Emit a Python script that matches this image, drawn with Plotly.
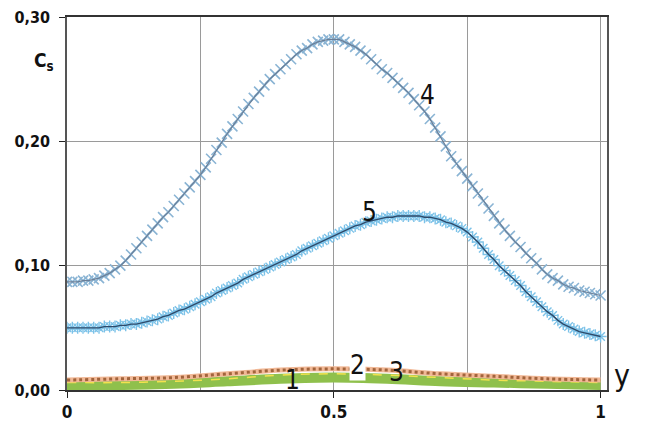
import plotly.graph_objects as go

# ---- data ----
y_grid = [round(i * 0.01, 2) for i in range(101)]

cs_4 = [0.087, 0.087, 0.087, 0.088, 0.088, 0.089, 0.090, 0.092, 0.094, 0.097,
        0.100, 0.104, 0.109, 0.114, 0.119, 0.124, 0.129, 0.134, 0.139, 0.143,
        0.148, 0.153, 0.158, 0.163, 0.168, 0.173, 0.179, 0.186, 0.193, 0.199,
        0.206, 0.212, 0.218, 0.224, 0.230, 0.235, 0.240, 0.245, 0.250, 0.254,
        0.258, 0.262, 0.266, 0.270, 0.273, 0.275, 0.278, 0.280, 0.281, 0.282,
        0.282, 0.282, 0.280, 0.278, 0.276, 0.273, 0.270, 0.266, 0.262, 0.258,
        0.255, 0.251, 0.247, 0.243, 0.239, 0.234, 0.229, 0.224, 0.218, 0.211,
        0.204, 0.196, 0.188, 0.182, 0.176, 0.170, 0.164, 0.158, 0.152, 0.146,
        0.140, 0.134, 0.129, 0.124, 0.119, 0.115, 0.110, 0.106, 0.102, 0.097,
        0.093, 0.090, 0.088, 0.085, 0.083, 0.082, 0.080, 0.079, 0.078, 0.077,
        0.076]

cs_5 = [0.050, 0.050, 0.050, 0.050, 0.050, 0.050, 0.050, 0.051, 0.051, 0.051,
        0.052, 0.052, 0.053, 0.053, 0.054, 0.055, 0.056, 0.057, 0.059, 0.060,
        0.062, 0.064, 0.065, 0.067, 0.069, 0.071, 0.073, 0.075, 0.078, 0.080,
        0.082, 0.084, 0.086, 0.089, 0.091, 0.093, 0.095, 0.097, 0.099, 0.101,
        0.103, 0.105, 0.107, 0.109, 0.112, 0.114, 0.116, 0.118, 0.120, 0.122,
        0.124, 0.126, 0.128, 0.130, 0.132, 0.133, 0.135, 0.136, 0.137, 0.138,
        0.139, 0.139, 0.140, 0.140, 0.140, 0.140, 0.140, 0.139, 0.139, 0.138,
        0.137, 0.135, 0.134, 0.132, 0.130, 0.127, 0.123, 0.119, 0.114, 0.109,
        0.105, 0.100, 0.096, 0.092, 0.088, 0.084, 0.079, 0.075, 0.071, 0.067,
        0.063, 0.060, 0.056, 0.053, 0.051, 0.049, 0.047, 0.046, 0.045, 0.044,
        0.043]

y_coarse = [0.0, 0.1, 0.2, 0.3, 0.4, 0.5, 0.6, 0.7, 0.8, 0.9, 1.0]
cs_1 = [0.004, 0.004, 0.005, 0.007, 0.009, 0.010, 0.009, 0.007, 0.006, 0.005, 0.004]
cs_2 = [0.008, 0.009, 0.010, 0.013, 0.016, 0.017, 0.016, 0.013, 0.011, 0.009, 0.008]
cs_3 = [0.006, 0.006, 0.007, 0.009, 0.012, 0.013, 0.012, 0.010, 0.008, 0.007, 0.006]

y_ticks = [0.0, 0.1, 0.2, 0.3]
y_tick_text = ["0,00", "0,10", "0,20", "0,30"]
x_ticks = [0, 0.5, 1]
x_tick_text = ["0", "0.5", "1"]
x_minor_grid = [0.25, 0.75]

labels = [("1", 0.423, 0.008), ("2", 0.545, 0.020), ("3", 0.618, 0.0145),
          ("4", 0.676, 0.237), ("5", 0.567, 0.143)]

NARROW = "Liberation Sans Narrow, DejaVu Sans Condensed, Liberation Sans, sans-serif"

fig = go.Figure()

# lower curves
fig.add_trace(go.Scatter(x=y_coarse, y=cs_1, mode="lines", line=dict(color="#8fc04c", width=10, shape="spline"), hoverinfo="skip"))
fig.add_trace(go.Scatter(x=y_coarse, y=cs_3, mode="lines", line=dict(color="#f2e24e", width=1.5, dash="dash", shape="spline"), hoverinfo="skip"))
fig.add_trace(go.Scatter(x=y_coarse, y=cs_2, mode="lines", line=dict(color="#f1b896", width=5, shape="spline"), hoverinfo="skip"))
fig.add_trace(go.Scatter(x=y_coarse, y=cs_2, mode="lines", line=dict(color="#a2643c", width=3, dash="dot", shape="spline"), hoverinfo="skip"))

# curve 4
fig.add_trace(go.Scatter(x=y_grid, y=cs_4, mode="markers",
                         marker=dict(symbol="x-thin-open", size=10, color="#8ab4d4",
                                     line=dict(color="#8ab4d4", width=1.6)), hoverinfo="skip"))
fig.add_trace(go.Scatter(x=y_grid, y=cs_4, mode="lines", line=dict(color="#6a7f98", width=1.2), hoverinfo="skip"))

# curve 5
fig.add_trace(go.Scatter(x=y_grid, y=cs_5, mode="markers",
                         marker=dict(symbol="asterisk-open", size=10, color="#7cc2e8",
                                     line=dict(color="#7cc2e8", width=1.4)), hoverinfo="skip"))
fig.add_trace(go.Scatter(x=y_grid, y=cs_5, mode="lines", line=dict(color="#2e4a6a", width=1.4), hoverinfo="skip"))

OFF = 8  # page body offset
PL, PW, PB, PH = 67 - OFF, 540, 390 - OFF, 373  # plot-area geometry in figure pixels

annotations = []
for txt, xv, yv in labels:
    annotations.append(dict(x=xv, y=yv, xref="x", yref="y", text=txt, showarrow=False,
                            font=dict(family=NARROW, size=26, color="#111"),
                            bgcolor="white" if txt == "2" else None, borderpad=0))
annotations.append(dict(x=(32 - OFF - PL) / PW, y=(PB - (47 - OFF)) / PH, xref="paper", yref="paper",
                        text="<b>C<sub>s</sub></b>", showarrow=False,
                        font=dict(family=NARROW, size=19, color="#111")))
annotations.append(dict(x=(632 - OFF - PL) / PW, y=(PB - (395 - OFF)) / PH, xref="paper", yref="paper",
                        text="y", showarrow=False,
                        font=dict(family=NARROW, size=30, color="#111")))

fig.update_layout(
    width=646, height=430,
    margin=dict(l=PL, r=646 - PL - PW, t=PB - PH, b=430 - PB),
    paper_bgcolor="white", plot_bgcolor="white",
    showlegend=False,
    annotations=annotations,
    xaxis=dict(range=[0, 1.012], tickvals=x_ticks, ticktext=x_tick_text,
               minor=dict(tickvals=x_minor_grid, showgrid=True, gridcolor="#9a9a9a", gridwidth=1, ticks=""),
               showgrid=True, gridcolor="#9a9a9a", gridwidth=1,
               showline=True, linecolor="#333", linewidth=1.5, mirror=True,
               ticks="outside", ticklen=6, tickcolor="#222", automargin=False,
               tickfont=dict(family=NARROW, size=17, color="#111", weight="bold"),
               ticklabeloverflow="allow", zeroline=False),
    yaxis=dict(range=[0, 0.30], tickvals=y_ticks, ticktext=y_tick_text,
               showgrid=True, gridcolor="#9a9a9a", gridwidth=1,
               showline=True, linecolor="#555", linewidth=1.5, mirror=True,
               ticks="outside", ticklen=6, tickcolor="#222", automargin=False,
               tickfont=dict(family=NARROW, size=16, color="#111", weight="bold"),
               ticklabelstandoff=6, ticklabeloverflow="allow", zeroline=False),
)

fig.write_html("out.html")
